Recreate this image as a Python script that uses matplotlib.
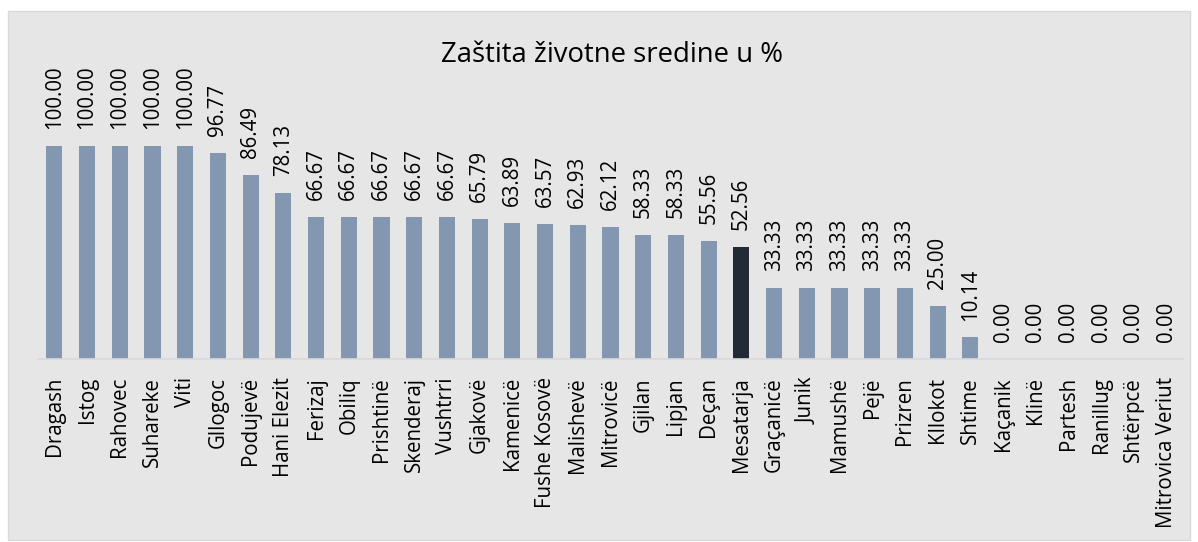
import matplotlib
matplotlib.use("Agg")
import matplotlib.pyplot as plt
from matplotlib.patches import Rectangle

categories = ["Dragash", "Istog", "Rahovec", "Suhareke", "Viti", "Gllogoc", "Podujevë",
              "Hani Elezit", "Ferizaj", "Obiliq", "Prishtinë", "Skenderaj", "Vushtrri",
              "Gjakovë", "Kamenicë", "Fushe Kosovë", "Malishevë", "Mitrovicë", "Gjilan",
              "Lipjan", "Deçan", "Mesatarja", "Graçanicë", "Junik", "Mamushë", "Pejë",
              "Prizren", "Kllokot", "Shtime", "Kaçanik", "Klinë", "Partesh", "Ranillug",
              "Shtërpcë", "Mitrovica Veriut"]
values = [100.00, 100.00, 100.00, 100.00, 100.00, 96.77, 86.49, 78.13, 66.67, 66.67,
          66.67, 66.67, 66.67, 65.79, 63.89, 63.57, 62.93, 62.12, 58.33, 58.33, 55.56,
          52.56, 33.33, 33.33, 33.33, 33.33, 33.33, 25.00, 10.14, 0.00, 0.00, 0.00,
          0.00, 0.00, 0.00]
highlight = "Mesatarja"
title = "Zaštita životne sredine u %"

plt.rcParams['font.family'] = ['Open Sans', 'DejaVu Sans']

W, H = 1198, 542
fig = plt.figure(figsize=(W / 100, H / 100), dpi=100, facecolor="white")
fig.patches.append(Rectangle((8 / W, 2 / H), (1190 - 8) / W, (540 - 11) / H,
                             transform=fig.transFigure, facecolor="#E7E6E6",
                             edgecolor="#D9D9D9", linewidth=1, zorder=-10))

left, right, bottom_px, top_px = 38, 1183, 359, 80
ax = fig.add_axes([left / W, (H - bottom_px) / H, (right - left) / W, (bottom_px - top_px) / H])
ax.set_facecolor("none")
ax.set_zorder(5)

n = len(categories)
colors = ["#222A35" if c == highlight else "#8497B0" for c in categories]
x = list(range(n))
ax.bar(x, values, width=0.49, color=colors, zorder=2)
ax.set_xlim(-0.5, n - 0.5)
ymax = (bottom_px - top_px) / ((bottom_px - 146) / 100)
ax.set_ylim(0, ymax)

for xi, v in zip(x, values):
    ax.annotate(f"{v:.2f}", (xi, v), xytext=(0, 12), textcoords="offset points",
                rotation=90, ha="center", va="bottom", fontsize=14.8, color="black")

ax.set_xticks(x)
ax.set_xticklabels(categories, rotation=90, fontsize=14.8, color="black")
ax.tick_params(axis="x", length=0, pad=13)
ax.set_yticks([])
for s in ["top", "right", "left"]:
    ax.spines[s].set_visible(False)
ax.spines["bottom"].set_color("#D9D9D9")
ax.spines["bottom"].set_linewidth(1.2)

fig.text(612 / W, (H - 55) / H, title, ha="center", va="center", fontsize=19.8, color="black")

fig.savefig("out.png", dpi=100, facecolor="white")
